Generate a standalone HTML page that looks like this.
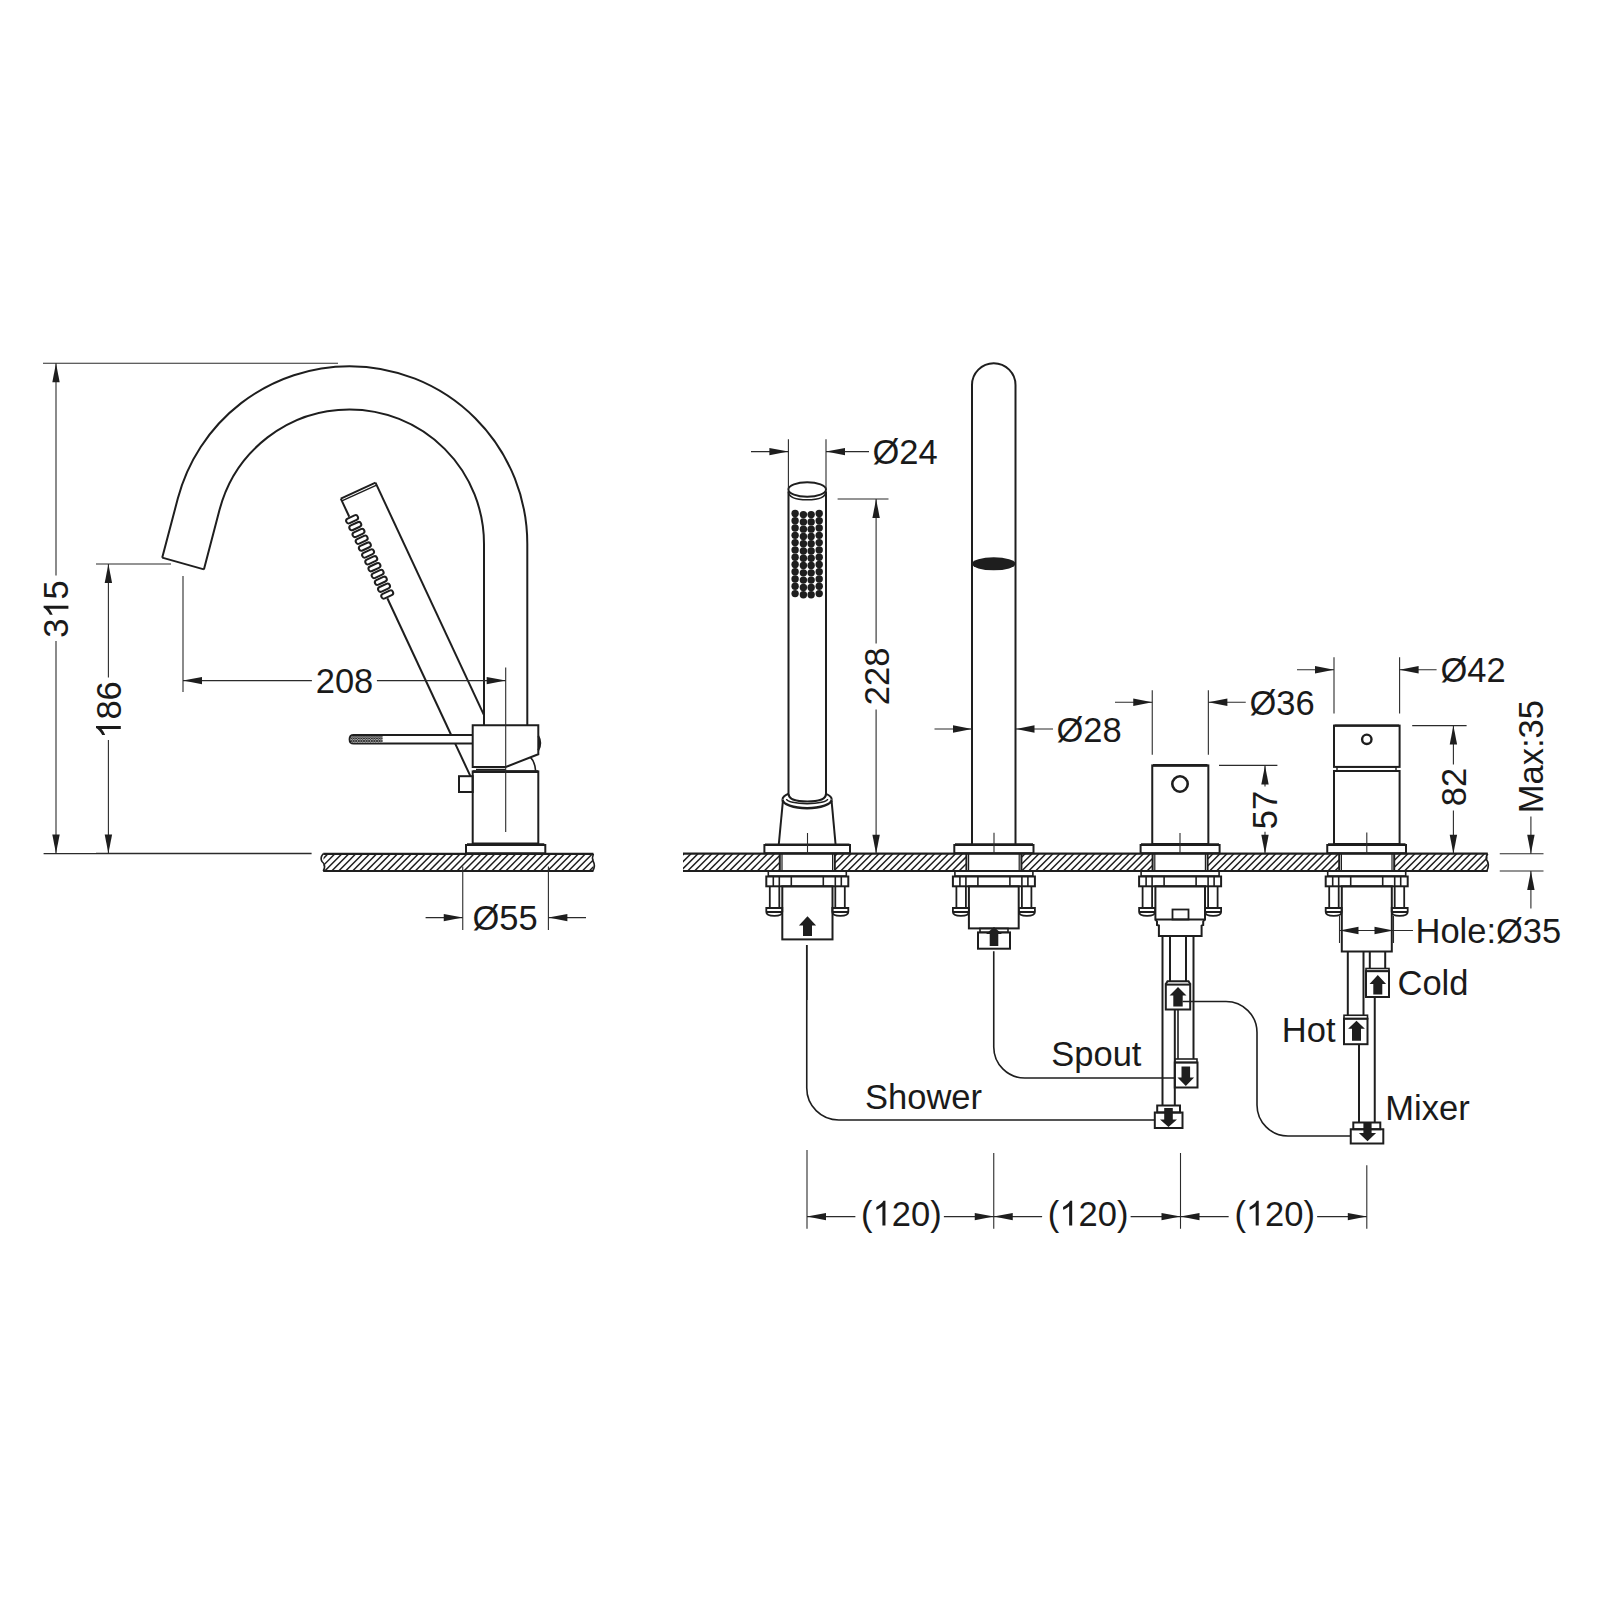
<!DOCTYPE html>
<html><head><meta charset="utf-8"><style>html,body{margin:0;padding:0;background:#fff;}svg{display:block;}</style></head><body>
<svg width="1600" height="1600" viewBox="0 0 1600 1600" style="font-family:&quot;Liberation Sans&quot;, sans-serif" fill="#1a1a1a">
<rect width="1600" height="1600" fill="#fff"/>
<path d="M162.2,557.65 L177.8,498.6 A177.7,177.7 0 0 1 349.6,366.2 A177.7,177.7 0 0 1 527.3,543.9 L527.3,725.3" fill="none" stroke="#1e1e1e" stroke-width="2"/>
<path d="M203.9,569.4 L219.6,509.6 A134.4,134.4 0 0 1 349.6,409.5 A134.4,134.4 0 0 1 484,543.9 L484,725.3" fill="none" stroke="#1e1e1e" stroke-width="2"/>
<line x1="162.2" y1="557.65" x2="203.9" y2="569.4" stroke="#1e1e1e" stroke-width="2"/>
<line x1="340.8" y1="498.6" x2="375.5" y2="482.7" stroke="#1e1e1e" stroke-width="2"/>
<line x1="341.9" y1="500.96" x2="376.6" y2="485.06" stroke="#1e1e1e" stroke-width="1.4"/>
<line x1="340.8" y1="498.6" x2="349.26" y2="516.72" stroke="#1e1e1e" stroke-width="2"/>
<line x1="387.33" y1="598.26" x2="451.17" y2="735" stroke="#1e1e1e" stroke-width="2"/>
<line x1="455.19" y1="743.6" x2="470.41" y2="776.2" stroke="#1e1e1e" stroke-width="2"/>
<line x1="375.5" y1="482.7" x2="484" y2="715.09" stroke="#1e1e1e" stroke-width="2"/>
<rect x="-6.3" y="-2.5" width="12.6" height="5" rx="2.5" fill="none" stroke="#1e1e1e" stroke-width="2" transform="translate(352.1,519.26) rotate(-25.03)"/>
<rect x="-6.3" y="-2.5" width="12.6" height="5" rx="2.5" fill="none" stroke="#1e1e1e" stroke-width="2" transform="translate(355.29,526.1) rotate(-25.03)"/>
<rect x="-6.3" y="-2.5" width="12.6" height="5" rx="2.5" fill="none" stroke="#1e1e1e" stroke-width="2" transform="translate(358.49,532.94) rotate(-25.03)"/>
<rect x="-6.3" y="-2.5" width="12.6" height="5" rx="2.5" fill="none" stroke="#1e1e1e" stroke-width="2" transform="translate(361.68,539.78) rotate(-25.03)"/>
<rect x="-6.3" y="-2.5" width="12.6" height="5" rx="2.5" fill="none" stroke="#1e1e1e" stroke-width="2" transform="translate(364.87,546.62) rotate(-25.03)"/>
<rect x="-6.3" y="-2.5" width="12.6" height="5" rx="2.5" fill="none" stroke="#1e1e1e" stroke-width="2" transform="translate(368.07,553.46) rotate(-25.03)"/>
<rect x="-6.3" y="-2.5" width="12.6" height="5" rx="2.5" fill="none" stroke="#1e1e1e" stroke-width="2" transform="translate(371.26,560.3) rotate(-25.03)"/>
<rect x="-6.3" y="-2.5" width="12.6" height="5" rx="2.5" fill="none" stroke="#1e1e1e" stroke-width="2" transform="translate(374.46,567.14) rotate(-25.03)"/>
<rect x="-6.3" y="-2.5" width="12.6" height="5" rx="2.5" fill="none" stroke="#1e1e1e" stroke-width="2" transform="translate(377.65,573.98) rotate(-25.03)"/>
<rect x="-6.3" y="-2.5" width="12.6" height="5" rx="2.5" fill="none" stroke="#1e1e1e" stroke-width="2" transform="translate(380.84,580.82) rotate(-25.03)"/>
<rect x="-6.3" y="-2.5" width="12.6" height="5" rx="2.5" fill="none" stroke="#1e1e1e" stroke-width="2" transform="translate(384.04,587.66) rotate(-25.03)"/>
<rect x="-6.3" y="-2.5" width="12.6" height="5" rx="2.5" fill="none" stroke="#1e1e1e" stroke-width="2" transform="translate(387.23,594.5) rotate(-25.03)"/>
<pattern id="knurl" width="2.6" height="2.6" patternUnits="userSpaceOnUse"><rect width="2.6" height="2.6" fill="#fff"/><path d="M0,0 L2.6,2.6 M2.6,0 L0,2.6" stroke="#222" stroke-width="0.9"/></pattern>
<path d="M472.7,735 L353.6,735 Q349.6,735 349.6,739.3 Q349.6,743.6 353.6,743.6 L472.7,743.6" fill="none" stroke="#1e1e1e" stroke-width="2"/>
<rect x="351" y="736" width="31.6" height="6.6" fill="url(#knurl)" stroke="none" stroke-width="0"/>
<path d="M472.7,725.3 L538.3,725.3 L538.3,754.2 L505.7,767 L472.7,767 Z" fill="none" stroke="#1e1e1e" stroke-width="2"/>
<path d="M538.3,736 Q542.2,743 538.3,750.3" fill="#1e1e1e" stroke="#1e1e1e" stroke-width="2"/>
<path d="M530.5,757.4 Q535,762 535.6,770.7" fill="none" stroke="#1e1e1e" stroke-width="1.6"/>
<line x1="476" y1="769.4" x2="505.7" y2="769.4" stroke="#1e1e1e" stroke-width="1.2"/>
<rect x="472.7" y="771.4" width="65.6" height="72.1" fill="none" stroke="#1e1e1e" stroke-width="2"/>
<line x1="473" y1="771.6" x2="538" y2="771.6" stroke="#1e1e1e" stroke-width="2.8"/>
<rect x="459" y="776.2" width="13.7" height="15.8" fill="none" stroke="#1e1e1e" stroke-width="2"/>
<rect x="466" y="845" width="79.3" height="8.3" fill="none" stroke="#1e1e1e" stroke-width="2"/>
<line x1="467" y1="844.4" x2="544.3" y2="844.4" stroke="#1e1e1e" stroke-width="2.4"/>
<clipPath id="cl"><rect x="323.5" y="853.8" width="269.9" height="17.2"/></clipPath>
<g clip-path="url(#cl)" stroke="#1e1e1e" stroke-width="1.5">
<line x1="289.94" y1="871" x2="307.14" y2="853.8"/>
<line x1="296.9" y1="871" x2="314.1" y2="853.8"/>
<line x1="303.86" y1="871" x2="321.06" y2="853.8"/>
<line x1="310.82" y1="871" x2="328.02" y2="853.8"/>
<line x1="317.78" y1="871" x2="334.98" y2="853.8"/>
<line x1="324.74" y1="871" x2="341.94" y2="853.8"/>
<line x1="331.7" y1="871" x2="348.9" y2="853.8"/>
<line x1="338.66" y1="871" x2="355.86" y2="853.8"/>
<line x1="345.62" y1="871" x2="362.82" y2="853.8"/>
<line x1="352.58" y1="871" x2="369.78" y2="853.8"/>
<line x1="359.54" y1="871" x2="376.74" y2="853.8"/>
<line x1="366.5" y1="871" x2="383.7" y2="853.8"/>
<line x1="373.46" y1="871" x2="390.66" y2="853.8"/>
<line x1="380.42" y1="871" x2="397.62" y2="853.8"/>
<line x1="387.38" y1="871" x2="404.58" y2="853.8"/>
<line x1="394.34" y1="871" x2="411.54" y2="853.8"/>
<line x1="401.3" y1="871" x2="418.5" y2="853.8"/>
<line x1="408.26" y1="871" x2="425.46" y2="853.8"/>
<line x1="415.22" y1="871" x2="432.42" y2="853.8"/>
<line x1="422.18" y1="871" x2="439.38" y2="853.8"/>
<line x1="429.14" y1="871" x2="446.34" y2="853.8"/>
<line x1="436.1" y1="871" x2="453.3" y2="853.8"/>
<line x1="443.06" y1="871" x2="460.26" y2="853.8"/>
<line x1="450.02" y1="871" x2="467.22" y2="853.8"/>
<line x1="456.98" y1="871" x2="474.18" y2="853.8"/>
<line x1="463.94" y1="871" x2="481.14" y2="853.8"/>
<line x1="470.9" y1="871" x2="488.1" y2="853.8"/>
<line x1="477.86" y1="871" x2="495.06" y2="853.8"/>
<line x1="484.82" y1="871" x2="502.02" y2="853.8"/>
<line x1="491.78" y1="871" x2="508.98" y2="853.8"/>
<line x1="498.74" y1="871" x2="515.94" y2="853.8"/>
<line x1="505.7" y1="871" x2="522.9" y2="853.8"/>
<line x1="512.66" y1="871" x2="529.86" y2="853.8"/>
<line x1="519.62" y1="871" x2="536.82" y2="853.8"/>
<line x1="526.58" y1="871" x2="543.78" y2="853.8"/>
<line x1="533.54" y1="871" x2="550.74" y2="853.8"/>
<line x1="540.5" y1="871" x2="557.7" y2="853.8"/>
<line x1="547.46" y1="871" x2="564.66" y2="853.8"/>
<line x1="554.42" y1="871" x2="571.62" y2="853.8"/>
<line x1="561.38" y1="871" x2="578.58" y2="853.8"/>
<line x1="568.34" y1="871" x2="585.54" y2="853.8"/>
<line x1="575.3" y1="871" x2="592.5" y2="853.8"/>
<line x1="582.26" y1="871" x2="599.46" y2="853.8"/>
<line x1="589.22" y1="871" x2="606.42" y2="853.8"/>
<line x1="596.18" y1="871" x2="613.38" y2="853.8"/>
</g>
<line x1="323.2" y1="853.8" x2="593.4" y2="853.8" stroke="#1e1e1e" stroke-width="2.2"/>
<line x1="323.2" y1="871" x2="593.4" y2="871" stroke="#1e1e1e" stroke-width="2.2"/>
<path d="M323.2,853.8 Q319.8,858 322,861.5 Q326.5,865.5 323.2,871" fill="none" stroke="#1e1e1e" stroke-width="1.6"/>
<path d="M593.4,853.8 Q591.8,858 593,861 Q596,866 592.6,871" fill="none" stroke="#1e1e1e" stroke-width="1.6"/>
<line x1="43.6" y1="853.6" x2="96" y2="853.6" stroke="#2b2b2b" stroke-width="1.1"/>
<line x1="96" y1="853.6" x2="311.6" y2="853.6" stroke="#2b2b2b" stroke-width="1.5"/>
<line x1="505.7" y1="667.5" x2="505.7" y2="832" stroke="#2b2b2b" stroke-width="1.1"/>
<line x1="43" y1="363.3" x2="338" y2="363.3" stroke="#2b2b2b" stroke-width="1.1"/>
<line x1="56" y1="363.3" x2="56" y2="575.5" stroke="#2b2b2b" stroke-width="1.1"/>
<line x1="56" y1="641" x2="56" y2="853.6" stroke="#2b2b2b" stroke-width="1.1"/>
<polygon points="56,363.3 52.3,382.3 59.7,382.3" fill="#1e1e1e"/>
<polygon points="56,853.6 52.3,834.6 59.7,834.6" fill="#1e1e1e"/>
<g transform="translate(56,609) rotate(-90)"><text x="-28.78" y="12.4" font-size="34.5">3&#8199;5</text><path d="M763,0 L583,0 L583,1147 Q518,1085 412,1023 Q306,961 222,930 L222,1104 Q372,1175 484,1276 Q596,1377 643,1472 L763,1472 Z" transform="translate(-9.59,12.4) scale(0.016846,-0.016846)"/></g>
<line x1="96" y1="564" x2="171" y2="564" stroke="#2b2b2b" stroke-width="1.1"/>
<line x1="108.4" y1="564" x2="108.4" y2="677.5" stroke="#2b2b2b" stroke-width="1.1"/>
<line x1="108.4" y1="740" x2="108.4" y2="853.6" stroke="#2b2b2b" stroke-width="1.1"/>
<polygon points="108.4,564 104.7,583 112.1,583" fill="#1e1e1e"/>
<polygon points="108.4,853.6 104.7,834.6 112.1,834.6" fill="#1e1e1e"/>
<g transform="translate(108.4,710) rotate(-90)"><text x="-28.78" y="12.4" font-size="34.5">&#8199;86</text><path d="M763,0 L583,0 L583,1147 Q518,1085 412,1023 Q306,961 222,930 L222,1104 Q372,1175 484,1276 Q596,1377 643,1472 L763,1472 Z" transform="translate(-28.78,12.4) scale(0.016846,-0.016846)"/></g>
<line x1="183" y1="576" x2="183" y2="692" stroke="#2b2b2b" stroke-width="1.1"/>
<line x1="183" y1="680.6" x2="311.9" y2="680.6" stroke="#2b2b2b" stroke-width="1.1"/>
<line x1="376.9" y1="680.6" x2="505.7" y2="680.6" stroke="#2b2b2b" stroke-width="1.1"/>
<polygon points="183,680.6 202,676.9 202,684.3" fill="#1e1e1e"/>
<polygon points="505.7,680.6 486.7,676.9 486.7,684.3" fill="#1e1e1e"/>
<text x="315.72" y="693" font-size="34.5">208</text>
<line x1="462.75" y1="866.6" x2="462.75" y2="930" stroke="#2b2b2b" stroke-width="1.1"/>
<line x1="548.4" y1="866.6" x2="548.4" y2="930" stroke="#2b2b2b" stroke-width="1.1"/>
<line x1="425.6" y1="917.6" x2="462.75" y2="917.6" stroke="#2b2b2b" stroke-width="1.1"/>
<line x1="548.4" y1="917.6" x2="586" y2="917.6" stroke="#2b2b2b" stroke-width="1.1"/>
<polygon points="462.75,917.6 443.75,913.9 443.75,921.3" fill="#1e1e1e"/>
<polygon points="548.4,917.6 567.4,913.9 567.4,921.3" fill="#1e1e1e"/>
<text x="472.4" y="930" font-size="34.5">&#216;55</text>
<clipPath id="cr"><rect x="683" y="853.7" width="96.8" height="17.3"/><rect x="834.8" y="853.7" width="131.6" height="17.3"/><rect x="1021.4" y="853.7" width="131.2" height="17.3"/><rect x="1207.6" y="853.7" width="131.6" height="17.3"/><rect x="1394.2" y="853.7" width="93.3" height="17.3"/></clipPath>
<g clip-path="url(#cr)" stroke="#1e1e1e" stroke-width="1.5">
<line x1="652.8" y1="871" x2="670.1" y2="853.7"/>
<line x1="659.76" y1="871" x2="677.06" y2="853.7"/>
<line x1="666.72" y1="871" x2="684.02" y2="853.7"/>
<line x1="673.68" y1="871" x2="690.98" y2="853.7"/>
<line x1="680.64" y1="871" x2="697.94" y2="853.7"/>
<line x1="687.6" y1="871" x2="704.9" y2="853.7"/>
<line x1="694.56" y1="871" x2="711.86" y2="853.7"/>
<line x1="701.52" y1="871" x2="718.82" y2="853.7"/>
<line x1="708.48" y1="871" x2="725.78" y2="853.7"/>
<line x1="715.44" y1="871" x2="732.74" y2="853.7"/>
<line x1="722.4" y1="871" x2="739.7" y2="853.7"/>
<line x1="729.36" y1="871" x2="746.66" y2="853.7"/>
<line x1="736.32" y1="871" x2="753.62" y2="853.7"/>
<line x1="743.28" y1="871" x2="760.58" y2="853.7"/>
<line x1="750.24" y1="871" x2="767.54" y2="853.7"/>
<line x1="757.2" y1="871" x2="774.5" y2="853.7"/>
<line x1="764.16" y1="871" x2="781.46" y2="853.7"/>
<line x1="771.12" y1="871" x2="788.42" y2="853.7"/>
<line x1="778.08" y1="871" x2="795.38" y2="853.7"/>
<line x1="785.04" y1="871" x2="802.34" y2="853.7"/>
<line x1="792" y1="871" x2="809.3" y2="853.7"/>
<line x1="798.96" y1="871" x2="816.26" y2="853.7"/>
<line x1="805.92" y1="871" x2="823.22" y2="853.7"/>
<line x1="812.88" y1="871" x2="830.18" y2="853.7"/>
<line x1="819.84" y1="871" x2="837.14" y2="853.7"/>
<line x1="826.8" y1="871" x2="844.1" y2="853.7"/>
<line x1="833.76" y1="871" x2="851.06" y2="853.7"/>
<line x1="840.72" y1="871" x2="858.02" y2="853.7"/>
<line x1="847.68" y1="871" x2="864.98" y2="853.7"/>
<line x1="854.64" y1="871" x2="871.94" y2="853.7"/>
<line x1="861.6" y1="871" x2="878.9" y2="853.7"/>
<line x1="868.56" y1="871" x2="885.86" y2="853.7"/>
<line x1="875.52" y1="871" x2="892.82" y2="853.7"/>
<line x1="882.48" y1="871" x2="899.78" y2="853.7"/>
<line x1="889.44" y1="871" x2="906.74" y2="853.7"/>
<line x1="896.4" y1="871" x2="913.7" y2="853.7"/>
<line x1="903.36" y1="871" x2="920.66" y2="853.7"/>
<line x1="910.32" y1="871" x2="927.62" y2="853.7"/>
<line x1="917.28" y1="871" x2="934.58" y2="853.7"/>
<line x1="924.24" y1="871" x2="941.54" y2="853.7"/>
<line x1="931.2" y1="871" x2="948.5" y2="853.7"/>
<line x1="938.16" y1="871" x2="955.46" y2="853.7"/>
<line x1="945.12" y1="871" x2="962.42" y2="853.7"/>
<line x1="952.08" y1="871" x2="969.38" y2="853.7"/>
<line x1="959.04" y1="871" x2="976.34" y2="853.7"/>
<line x1="966" y1="871" x2="983.3" y2="853.7"/>
<line x1="972.96" y1="871" x2="990.26" y2="853.7"/>
<line x1="979.92" y1="871" x2="997.22" y2="853.7"/>
<line x1="986.88" y1="871" x2="1004.18" y2="853.7"/>
<line x1="993.84" y1="871" x2="1011.14" y2="853.7"/>
<line x1="1000.8" y1="871" x2="1018.1" y2="853.7"/>
<line x1="1007.76" y1="871" x2="1025.06" y2="853.7"/>
<line x1="1014.72" y1="871" x2="1032.02" y2="853.7"/>
<line x1="1021.68" y1="871" x2="1038.98" y2="853.7"/>
<line x1="1028.64" y1="871" x2="1045.94" y2="853.7"/>
<line x1="1035.6" y1="871" x2="1052.9" y2="853.7"/>
<line x1="1042.56" y1="871" x2="1059.86" y2="853.7"/>
<line x1="1049.52" y1="871" x2="1066.82" y2="853.7"/>
<line x1="1056.48" y1="871" x2="1073.78" y2="853.7"/>
<line x1="1063.44" y1="871" x2="1080.74" y2="853.7"/>
<line x1="1070.4" y1="871" x2="1087.7" y2="853.7"/>
<line x1="1077.36" y1="871" x2="1094.66" y2="853.7"/>
<line x1="1084.32" y1="871" x2="1101.62" y2="853.7"/>
<line x1="1091.28" y1="871" x2="1108.58" y2="853.7"/>
<line x1="1098.24" y1="871" x2="1115.54" y2="853.7"/>
<line x1="1105.2" y1="871" x2="1122.5" y2="853.7"/>
<line x1="1112.16" y1="871" x2="1129.46" y2="853.7"/>
<line x1="1119.12" y1="871" x2="1136.42" y2="853.7"/>
<line x1="1126.08" y1="871" x2="1143.38" y2="853.7"/>
<line x1="1133.04" y1="871" x2="1150.34" y2="853.7"/>
<line x1="1140" y1="871" x2="1157.3" y2="853.7"/>
<line x1="1146.96" y1="871" x2="1164.26" y2="853.7"/>
<line x1="1153.92" y1="871" x2="1171.22" y2="853.7"/>
<line x1="1160.88" y1="871" x2="1178.18" y2="853.7"/>
<line x1="1167.84" y1="871" x2="1185.14" y2="853.7"/>
<line x1="1174.8" y1="871" x2="1192.1" y2="853.7"/>
<line x1="1181.76" y1="871" x2="1199.06" y2="853.7"/>
<line x1="1188.72" y1="871" x2="1206.02" y2="853.7"/>
<line x1="1195.68" y1="871" x2="1212.98" y2="853.7"/>
<line x1="1202.64" y1="871" x2="1219.94" y2="853.7"/>
<line x1="1209.6" y1="871" x2="1226.9" y2="853.7"/>
<line x1="1216.56" y1="871" x2="1233.86" y2="853.7"/>
<line x1="1223.52" y1="871" x2="1240.82" y2="853.7"/>
<line x1="1230.48" y1="871" x2="1247.78" y2="853.7"/>
<line x1="1237.44" y1="871" x2="1254.74" y2="853.7"/>
<line x1="1244.4" y1="871" x2="1261.7" y2="853.7"/>
<line x1="1251.36" y1="871" x2="1268.66" y2="853.7"/>
<line x1="1258.32" y1="871" x2="1275.62" y2="853.7"/>
<line x1="1265.28" y1="871" x2="1282.58" y2="853.7"/>
<line x1="1272.24" y1="871" x2="1289.54" y2="853.7"/>
<line x1="1279.2" y1="871" x2="1296.5" y2="853.7"/>
<line x1="1286.16" y1="871" x2="1303.46" y2="853.7"/>
<line x1="1293.12" y1="871" x2="1310.42" y2="853.7"/>
<line x1="1300.08" y1="871" x2="1317.38" y2="853.7"/>
<line x1="1307.04" y1="871" x2="1324.34" y2="853.7"/>
<line x1="1314" y1="871" x2="1331.3" y2="853.7"/>
<line x1="1320.96" y1="871" x2="1338.26" y2="853.7"/>
<line x1="1327.92" y1="871" x2="1345.22" y2="853.7"/>
<line x1="1334.88" y1="871" x2="1352.18" y2="853.7"/>
<line x1="1341.84" y1="871" x2="1359.14" y2="853.7"/>
<line x1="1348.8" y1="871" x2="1366.1" y2="853.7"/>
<line x1="1355.76" y1="871" x2="1373.06" y2="853.7"/>
<line x1="1362.72" y1="871" x2="1380.02" y2="853.7"/>
<line x1="1369.68" y1="871" x2="1386.98" y2="853.7"/>
<line x1="1376.64" y1="871" x2="1393.94" y2="853.7"/>
<line x1="1383.6" y1="871" x2="1400.9" y2="853.7"/>
<line x1="1390.56" y1="871" x2="1407.86" y2="853.7"/>
<line x1="1397.52" y1="871" x2="1414.82" y2="853.7"/>
<line x1="1404.48" y1="871" x2="1421.78" y2="853.7"/>
<line x1="1411.44" y1="871" x2="1428.74" y2="853.7"/>
<line x1="1418.4" y1="871" x2="1435.7" y2="853.7"/>
<line x1="1425.36" y1="871" x2="1442.66" y2="853.7"/>
<line x1="1432.32" y1="871" x2="1449.62" y2="853.7"/>
<line x1="1439.28" y1="871" x2="1456.58" y2="853.7"/>
<line x1="1446.24" y1="871" x2="1463.54" y2="853.7"/>
<line x1="1453.2" y1="871" x2="1470.5" y2="853.7"/>
<line x1="1460.16" y1="871" x2="1477.46" y2="853.7"/>
<line x1="1467.12" y1="871" x2="1484.42" y2="853.7"/>
<line x1="1474.08" y1="871" x2="1491.38" y2="853.7"/>
<line x1="1481.04" y1="871" x2="1498.34" y2="853.7"/>
<line x1="1488" y1="871" x2="1505.3" y2="853.7"/>
</g>
<line x1="683" y1="853.7" x2="1487.75" y2="853.7" stroke="#1e1e1e" stroke-width="2.2"/>
<line x1="683" y1="871" x2="1487.75" y2="871" stroke="#1e1e1e" stroke-width="2.2"/>
<path d="M1487.75,853.7 Q1485.5,857 1486.5,859.5 Q1490,864.5 1486.8,871" fill="none" stroke="#1e1e1e" stroke-width="1.6"/>
<line x1="779.8" y1="853.7" x2="779.8" y2="871" stroke="#1e1e1e" stroke-width="2"/>
<line x1="834.8" y1="853.7" x2="834.8" y2="871" stroke="#1e1e1e" stroke-width="2"/>
<line x1="782" y1="853.7" x2="782" y2="871" stroke="#1e1e1e" stroke-width="1.2"/>
<line x1="832.6" y1="853.7" x2="832.6" y2="871" stroke="#1e1e1e" stroke-width="1.2"/>
<path d="M768.3,871 L768.3,876 L846.3,876 L846.3,871" fill="none" stroke="#1e1e1e" stroke-width="1.6"/>
<rect x="766.3" y="876.5" width="82" height="9.8" fill="none" stroke="#1e1e1e" stroke-width="2"/>
<line x1="773.3" y1="876.5" x2="773.3" y2="886.3" stroke="#1e1e1e" stroke-width="1.6"/>
<line x1="779.3" y1="876.5" x2="779.3" y2="886.3" stroke="#1e1e1e" stroke-width="1.6"/>
<line x1="791.3" y1="876.5" x2="791.3" y2="886.3" stroke="#1e1e1e" stroke-width="1.6"/>
<line x1="823.3" y1="876.5" x2="823.3" y2="886.3" stroke="#1e1e1e" stroke-width="1.6"/>
<line x1="835.3" y1="876.5" x2="835.3" y2="886.3" stroke="#1e1e1e" stroke-width="1.6"/>
<line x1="841.3" y1="876.5" x2="841.3" y2="886.3" stroke="#1e1e1e" stroke-width="1.6"/>
<line x1="769.8" y1="886.3" x2="769.8" y2="908" stroke="#1e1e1e" stroke-width="1.8"/>
<line x1="779.3" y1="886.3" x2="779.3" y2="908" stroke="#1e1e1e" stroke-width="1.8"/>
<path d="M766.3,912 L766.3,908 L782.3,908 L782.3,912 Q782.3,915.8 774.3,915.8 Q766.3,915.8 766.3,912 L782.3,912" fill="none" stroke="#1e1e1e" stroke-width="1.8"/>
<line x1="844.8" y1="886.3" x2="844.8" y2="908" stroke="#1e1e1e" stroke-width="1.8"/>
<line x1="835.3" y1="886.3" x2="835.3" y2="908" stroke="#1e1e1e" stroke-width="1.8"/>
<path d="M832.3,912 L832.3,908 L848.3,908 L848.3,912 Q848.3,915.8 840.3,915.8 Q832.3,915.8 832.3,912 L848.3,912" fill="none" stroke="#1e1e1e" stroke-width="1.8"/>
<line x1="966.4" y1="853.7" x2="966.4" y2="871" stroke="#1e1e1e" stroke-width="2"/>
<line x1="1021.4" y1="853.7" x2="1021.4" y2="871" stroke="#1e1e1e" stroke-width="2"/>
<line x1="968.6" y1="853.7" x2="968.6" y2="871" stroke="#1e1e1e" stroke-width="1.2"/>
<line x1="1019.2" y1="853.7" x2="1019.2" y2="871" stroke="#1e1e1e" stroke-width="1.2"/>
<path d="M954.9,871 L954.9,876 L1032.9,876 L1032.9,871" fill="none" stroke="#1e1e1e" stroke-width="1.6"/>
<rect x="952.9" y="876.5" width="82" height="9.8" fill="none" stroke="#1e1e1e" stroke-width="2"/>
<line x1="959.9" y1="876.5" x2="959.9" y2="886.3" stroke="#1e1e1e" stroke-width="1.6"/>
<line x1="965.9" y1="876.5" x2="965.9" y2="886.3" stroke="#1e1e1e" stroke-width="1.6"/>
<line x1="977.9" y1="876.5" x2="977.9" y2="886.3" stroke="#1e1e1e" stroke-width="1.6"/>
<line x1="1009.9" y1="876.5" x2="1009.9" y2="886.3" stroke="#1e1e1e" stroke-width="1.6"/>
<line x1="1021.9" y1="876.5" x2="1021.9" y2="886.3" stroke="#1e1e1e" stroke-width="1.6"/>
<line x1="1027.9" y1="876.5" x2="1027.9" y2="886.3" stroke="#1e1e1e" stroke-width="1.6"/>
<line x1="956.4" y1="886.3" x2="956.4" y2="908" stroke="#1e1e1e" stroke-width="1.8"/>
<line x1="965.9" y1="886.3" x2="965.9" y2="908" stroke="#1e1e1e" stroke-width="1.8"/>
<path d="M952.9,912 L952.9,908 L968.9,908 L968.9,912 Q968.9,915.8 960.9,915.8 Q952.9,915.8 952.9,912 L968.9,912" fill="none" stroke="#1e1e1e" stroke-width="1.8"/>
<line x1="1031.4" y1="886.3" x2="1031.4" y2="908" stroke="#1e1e1e" stroke-width="1.8"/>
<line x1="1021.9" y1="886.3" x2="1021.9" y2="908" stroke="#1e1e1e" stroke-width="1.8"/>
<path d="M1018.9,912 L1018.9,908 L1034.9,908 L1034.9,912 Q1034.9,915.8 1026.9,915.8 Q1018.9,915.8 1018.9,912 L1034.9,912" fill="none" stroke="#1e1e1e" stroke-width="1.8"/>
<line x1="1152.6" y1="853.7" x2="1152.6" y2="871" stroke="#1e1e1e" stroke-width="2"/>
<line x1="1207.6" y1="853.7" x2="1207.6" y2="871" stroke="#1e1e1e" stroke-width="2"/>
<line x1="1154.8" y1="853.7" x2="1154.8" y2="871" stroke="#1e1e1e" stroke-width="1.2"/>
<line x1="1205.4" y1="853.7" x2="1205.4" y2="871" stroke="#1e1e1e" stroke-width="1.2"/>
<path d="M1141.1,871 L1141.1,876 L1219.1,876 L1219.1,871" fill="none" stroke="#1e1e1e" stroke-width="1.6"/>
<rect x="1139.1" y="876.5" width="82" height="9.8" fill="none" stroke="#1e1e1e" stroke-width="2"/>
<line x1="1146.1" y1="876.5" x2="1146.1" y2="886.3" stroke="#1e1e1e" stroke-width="1.6"/>
<line x1="1152.1" y1="876.5" x2="1152.1" y2="886.3" stroke="#1e1e1e" stroke-width="1.6"/>
<line x1="1164.1" y1="876.5" x2="1164.1" y2="886.3" stroke="#1e1e1e" stroke-width="1.6"/>
<line x1="1196.1" y1="876.5" x2="1196.1" y2="886.3" stroke="#1e1e1e" stroke-width="1.6"/>
<line x1="1208.1" y1="876.5" x2="1208.1" y2="886.3" stroke="#1e1e1e" stroke-width="1.6"/>
<line x1="1214.1" y1="876.5" x2="1214.1" y2="886.3" stroke="#1e1e1e" stroke-width="1.6"/>
<line x1="1142.6" y1="886.3" x2="1142.6" y2="908" stroke="#1e1e1e" stroke-width="1.8"/>
<line x1="1152.1" y1="886.3" x2="1152.1" y2="908" stroke="#1e1e1e" stroke-width="1.8"/>
<path d="M1139.1,912 L1139.1,908 L1155.1,908 L1155.1,912 Q1155.1,915.8 1147.1,915.8 Q1139.1,915.8 1139.1,912 L1155.1,912" fill="none" stroke="#1e1e1e" stroke-width="1.8"/>
<line x1="1217.6" y1="886.3" x2="1217.6" y2="908" stroke="#1e1e1e" stroke-width="1.8"/>
<line x1="1208.1" y1="886.3" x2="1208.1" y2="908" stroke="#1e1e1e" stroke-width="1.8"/>
<path d="M1205.1,912 L1205.1,908 L1221.1,908 L1221.1,912 Q1221.1,915.8 1213.1,915.8 Q1205.1,915.8 1205.1,912 L1221.1,912" fill="none" stroke="#1e1e1e" stroke-width="1.8"/>
<line x1="1339.2" y1="853.7" x2="1339.2" y2="871" stroke="#1e1e1e" stroke-width="2"/>
<line x1="1394.2" y1="853.7" x2="1394.2" y2="871" stroke="#1e1e1e" stroke-width="2"/>
<line x1="1341.4" y1="853.7" x2="1341.4" y2="871" stroke="#1e1e1e" stroke-width="1.2"/>
<line x1="1392" y1="853.7" x2="1392" y2="871" stroke="#1e1e1e" stroke-width="1.2"/>
<path d="M1327.7,871 L1327.7,876 L1405.7,876 L1405.7,871" fill="none" stroke="#1e1e1e" stroke-width="1.6"/>
<rect x="1325.7" y="876.5" width="82" height="9.8" fill="none" stroke="#1e1e1e" stroke-width="2"/>
<line x1="1332.7" y1="876.5" x2="1332.7" y2="886.3" stroke="#1e1e1e" stroke-width="1.6"/>
<line x1="1338.7" y1="876.5" x2="1338.7" y2="886.3" stroke="#1e1e1e" stroke-width="1.6"/>
<line x1="1350.7" y1="876.5" x2="1350.7" y2="886.3" stroke="#1e1e1e" stroke-width="1.6"/>
<line x1="1382.7" y1="876.5" x2="1382.7" y2="886.3" stroke="#1e1e1e" stroke-width="1.6"/>
<line x1="1394.7" y1="876.5" x2="1394.7" y2="886.3" stroke="#1e1e1e" stroke-width="1.6"/>
<line x1="1400.7" y1="876.5" x2="1400.7" y2="886.3" stroke="#1e1e1e" stroke-width="1.6"/>
<line x1="1329.2" y1="886.3" x2="1329.2" y2="908" stroke="#1e1e1e" stroke-width="1.8"/>
<line x1="1338.7" y1="886.3" x2="1338.7" y2="908" stroke="#1e1e1e" stroke-width="1.8"/>
<path d="M1325.7,912 L1325.7,908 L1341.7,908 L1341.7,912 Q1341.7,915.8 1333.7,915.8 Q1325.7,915.8 1325.7,912 L1341.7,912" fill="none" stroke="#1e1e1e" stroke-width="1.8"/>
<line x1="1404.2" y1="886.3" x2="1404.2" y2="908" stroke="#1e1e1e" stroke-width="1.8"/>
<line x1="1394.7" y1="886.3" x2="1394.7" y2="908" stroke="#1e1e1e" stroke-width="1.8"/>
<path d="M1391.7,912 L1391.7,908 L1407.7,908 L1407.7,912 Q1407.7,915.8 1399.7,915.8 Q1391.7,915.8 1391.7,912 L1407.7,912" fill="none" stroke="#1e1e1e" stroke-width="1.8"/>
<line x1="788.5" y1="491.5" x2="788.5" y2="794" stroke="#1e1e1e" stroke-width="2"/>
<line x1="826" y1="491.5" x2="826" y2="794" stroke="#1e1e1e" stroke-width="2"/>
<ellipse cx="807.2" cy="489.5" rx="18.8" ry="7.3" fill="none" stroke="#1e1e1e" stroke-width="2"/>
<path d="M788.4,491.5 Q788.6,499.8 807.2,499.8 Q825.8,499.8 826,491.5" fill="none" stroke="#1e1e1e" stroke-width="1.6"/>
<circle cx="795.1" cy="513.5" r="3.7" fill="#1e1e1e"/>
<circle cx="795.1" cy="520.78" r="3.7" fill="#1e1e1e"/>
<circle cx="795.1" cy="528.06" r="3.7" fill="#1e1e1e"/>
<circle cx="795.1" cy="535.34" r="3.7" fill="#1e1e1e"/>
<circle cx="795.1" cy="542.62" r="3.7" fill="#1e1e1e"/>
<circle cx="795.1" cy="549.9" r="3.7" fill="#1e1e1e"/>
<circle cx="795.1" cy="557.18" r="3.7" fill="#1e1e1e"/>
<circle cx="795.1" cy="564.46" r="3.7" fill="#1e1e1e"/>
<circle cx="795.1" cy="571.74" r="3.7" fill="#1e1e1e"/>
<circle cx="795.1" cy="579.02" r="3.7" fill="#1e1e1e"/>
<circle cx="795.1" cy="586.3" r="3.7" fill="#1e1e1e"/>
<circle cx="795.1" cy="593.58" r="3.7" fill="#1e1e1e"/>
<circle cx="803.4" cy="514.6" r="3.7" fill="#1e1e1e"/>
<circle cx="803.4" cy="521.88" r="3.7" fill="#1e1e1e"/>
<circle cx="803.4" cy="529.16" r="3.7" fill="#1e1e1e"/>
<circle cx="803.4" cy="536.44" r="3.7" fill="#1e1e1e"/>
<circle cx="803.4" cy="543.72" r="3.7" fill="#1e1e1e"/>
<circle cx="803.4" cy="551" r="3.7" fill="#1e1e1e"/>
<circle cx="803.4" cy="558.28" r="3.7" fill="#1e1e1e"/>
<circle cx="803.4" cy="565.56" r="3.7" fill="#1e1e1e"/>
<circle cx="803.4" cy="572.84" r="3.7" fill="#1e1e1e"/>
<circle cx="803.4" cy="580.12" r="3.7" fill="#1e1e1e"/>
<circle cx="803.4" cy="587.4" r="3.7" fill="#1e1e1e"/>
<circle cx="803.4" cy="594.68" r="3.7" fill="#1e1e1e"/>
<circle cx="811.15" cy="514.6" r="3.7" fill="#1e1e1e"/>
<circle cx="811.15" cy="521.88" r="3.7" fill="#1e1e1e"/>
<circle cx="811.15" cy="529.16" r="3.7" fill="#1e1e1e"/>
<circle cx="811.15" cy="536.44" r="3.7" fill="#1e1e1e"/>
<circle cx="811.15" cy="543.72" r="3.7" fill="#1e1e1e"/>
<circle cx="811.15" cy="551" r="3.7" fill="#1e1e1e"/>
<circle cx="811.15" cy="558.28" r="3.7" fill="#1e1e1e"/>
<circle cx="811.15" cy="565.56" r="3.7" fill="#1e1e1e"/>
<circle cx="811.15" cy="572.84" r="3.7" fill="#1e1e1e"/>
<circle cx="811.15" cy="580.12" r="3.7" fill="#1e1e1e"/>
<circle cx="811.15" cy="587.4" r="3.7" fill="#1e1e1e"/>
<circle cx="811.15" cy="594.68" r="3.7" fill="#1e1e1e"/>
<circle cx="819.2" cy="513.5" r="3.7" fill="#1e1e1e"/>
<circle cx="819.2" cy="520.78" r="3.7" fill="#1e1e1e"/>
<circle cx="819.2" cy="528.06" r="3.7" fill="#1e1e1e"/>
<circle cx="819.2" cy="535.34" r="3.7" fill="#1e1e1e"/>
<circle cx="819.2" cy="542.62" r="3.7" fill="#1e1e1e"/>
<circle cx="819.2" cy="549.9" r="3.7" fill="#1e1e1e"/>
<circle cx="819.2" cy="557.18" r="3.7" fill="#1e1e1e"/>
<circle cx="819.2" cy="564.46" r="3.7" fill="#1e1e1e"/>
<circle cx="819.2" cy="571.74" r="3.7" fill="#1e1e1e"/>
<circle cx="819.2" cy="579.02" r="3.7" fill="#1e1e1e"/>
<circle cx="819.2" cy="586.3" r="3.7" fill="#1e1e1e"/>
<circle cx="819.2" cy="593.58" r="3.7" fill="#1e1e1e"/>
<path d="M782.5,799.5 A24.6,8.7 0 0 0 831.7,799.5" fill="none" stroke="#1e1e1e" stroke-width="2.4"/>
<path d="M782.5,799.5 A24.6,8.7 0 0 1 788.6,793.8" fill="none" stroke="#1e1e1e" stroke-width="2"/>
<path d="M826,793.8 A24.6,8.7 0 0 1 831.7,799.5" fill="none" stroke="#1e1e1e" stroke-width="2"/>
<path d="M786.6,799 A20.5,4.7 0 0 0 827.6,799" fill="none" stroke="#1e1e1e" stroke-width="1.5"/>
<path d="M788.6,794 Q788.8,801.5 807.3,801.5 Q825.8,801.5 826,794" fill="none" stroke="#1e1e1e" stroke-width="2.2"/>
<line x1="782.9" y1="801" x2="778.75" y2="844.75" stroke="#1e1e1e" stroke-width="2"/>
<line x1="831.6" y1="801" x2="835.6" y2="844.75" stroke="#1e1e1e" stroke-width="2"/>
<rect x="764.4" y="845" width="85.6" height="8.2" fill="none" stroke="#1e1e1e" stroke-width="2"/>
<line x1="765" y1="844.5" x2="849.5" y2="844.5" stroke="#1e1e1e" stroke-width="2.2"/>
<line x1="807.5" y1="833" x2="807.5" y2="853.7" stroke="#2b2b2b" stroke-width="1.1"/>
<rect x="782.3" y="886.3" width="50.2" height="53.1" fill="none" stroke="#1e1e1e" stroke-width="2"/>
<polygon points="807.5,916.3 816.1,925.6 812,925.6 812,936 803,936 803,925.6 798.9,925.6" fill="#1e1e1e"/>
<line x1="806.75" y1="945" x2="806.75" y2="1000" stroke="#1e1e1e" stroke-width="1.5"/>
<line x1="788.4" y1="439.25" x2="788.4" y2="489" stroke="#2b2b2b" stroke-width="1.1"/>
<line x1="826" y1="439.25" x2="826" y2="489" stroke="#2b2b2b" stroke-width="1.1"/>
<line x1="751" y1="451.6" x2="788.4" y2="451.6" stroke="#2b2b2b" stroke-width="1.1"/>
<line x1="826" y1="451.6" x2="869" y2="451.6" stroke="#2b2b2b" stroke-width="1.1"/>
<polygon points="788.4,451.6 769.4,447.9 769.4,455.3" fill="#1e1e1e"/>
<polygon points="826,451.6 845,447.9 845,455.3" fill="#1e1e1e"/>
<text x="872.4" y="464" font-size="34.5">&#216;24</text>
<line x1="837.6" y1="499" x2="888.5" y2="499" stroke="#2b2b2b" stroke-width="1.1"/>
<line x1="876.1" y1="499" x2="876.1" y2="643.4" stroke="#2b2b2b" stroke-width="1.1"/>
<line x1="876.1" y1="709.4" x2="876.1" y2="853.7" stroke="#2b2b2b" stroke-width="1.1"/>
<polygon points="876.1,499 872.4,518 879.8,518" fill="#1e1e1e"/>
<polygon points="876.1,853.7 872.4,834.7 879.8,834.7" fill="#1e1e1e"/>
<g transform="translate(876.1,676.4) rotate(-90)"><text x="-28.78" y="12.4" font-size="34.5">228</text></g>
<path d="M972,844 L972,385 A21.75,21.75 0 0 1 1015.5,385 L1015.5,844" fill="none" stroke="#1e1e1e" stroke-width="2"/>
<ellipse cx="993.75" cy="563.8" rx="21.75" ry="6.5" fill="#1e1e1e"/>
<rect x="954.3" y="845" width="79.2" height="8.2" fill="none" stroke="#1e1e1e" stroke-width="2"/>
<line x1="955" y1="844.5" x2="1033" y2="844.5" stroke="#1e1e1e" stroke-width="2.4"/>
<line x1="994" y1="832.75" x2="994" y2="853.7" stroke="#2b2b2b" stroke-width="1.1"/>
<rect x="968.9" y="886.3" width="49.8" height="42.1" fill="none" stroke="#1e1e1e" stroke-width="2"/>
<rect x="980" y="928.4" width="28" height="4" fill="none" stroke="#1e1e1e" stroke-width="1.6"/>
<rect x="978" y="932.4" width="32" height="16.3" fill="none" stroke="#1e1e1e" stroke-width="2"/>
<polygon points="994,927 1002,934 998.3,934 998.3,946 989.7,946 989.7,934 986,934" fill="#1e1e1e"/>
<line x1="934.5" y1="729" x2="972" y2="729" stroke="#2b2b2b" stroke-width="1.1"/>
<line x1="1015.5" y1="729" x2="1053" y2="729" stroke="#2b2b2b" stroke-width="1.1"/>
<polygon points="972,729 953,725.3 953,732.7" fill="#1e1e1e"/>
<polygon points="1015.5,729 1034.5,725.3 1034.5,732.7" fill="#1e1e1e"/>
<text x="1056.4" y="741.5" font-size="34.5">&#216;28</text>
<rect x="1152.25" y="765.4" width="56.1" height="78.6" fill="none" stroke="#1e1e1e" stroke-width="2"/>
<line x1="1153" y1="765.4" x2="1207.5" y2="765.4" stroke="#1e1e1e" stroke-width="2.6"/>
<circle cx="1180" cy="784" r="7.7" fill="none" stroke="#1e1e1e" stroke-width="2.6"/>
<rect x="1140.6" y="845" width="79" height="8.2" fill="none" stroke="#1e1e1e" stroke-width="2"/>
<line x1="1141" y1="844.5" x2="1219" y2="844.5" stroke="#1e1e1e" stroke-width="2.4"/>
<line x1="1180" y1="833" x2="1180" y2="853.7" stroke="#2b2b2b" stroke-width="1.1"/>
<rect x="1155.4" y="886.3" width="49.6" height="33.2" fill="none" stroke="#1e1e1e" stroke-width="2"/>
<rect x="1172.5" y="909.5" width="16" height="10" fill="none" stroke="#1e1e1e" stroke-width="1.8"/>
<path d="M1155.6,919.5 L1157,921.5 L1157,925 L1158.9,925.6 L1158.9,936.1 L1201.6,936.1 L1201.6,925.6 L1203.2,925 L1203.2,921.5 L1204.6,919.5" fill="none" stroke="#1e1e1e" stroke-width="2"/>
<line x1="1152.25" y1="690.2" x2="1152.25" y2="754.8" stroke="#2b2b2b" stroke-width="1.1"/>
<line x1="1208.35" y1="690.2" x2="1208.35" y2="754.8" stroke="#2b2b2b" stroke-width="1.1"/>
<line x1="1115" y1="702.3" x2="1152.25" y2="702.3" stroke="#2b2b2b" stroke-width="1.1"/>
<line x1="1208.35" y1="702.3" x2="1245.75" y2="702.3" stroke="#2b2b2b" stroke-width="1.1"/>
<polygon points="1152.25,702.3 1133.25,698.6 1133.25,706" fill="#1e1e1e"/>
<polygon points="1208.35,702.3 1227.35,698.6 1227.35,706" fill="#1e1e1e"/>
<text x="1249.4" y="714.8" font-size="34.5">&#216;36</text>
<line x1="1219" y1="765.4" x2="1277.4" y2="765.4" stroke="#2b2b2b" stroke-width="1.1"/>
<line x1="1265" y1="765.4" x2="1265" y2="786.5" stroke="#2b2b2b" stroke-width="1.1"/>
<line x1="1265" y1="831.8" x2="1265" y2="853.7" stroke="#2b2b2b" stroke-width="1.1"/>
<polygon points="1265,765.4 1261.3,784.4 1268.7,784.4" fill="#1e1e1e"/>
<polygon points="1265,853.7 1261.3,834.7 1268.7,834.7" fill="#1e1e1e"/>
<g transform="translate(1265,810) rotate(-90)"><text x="-19.19" y="12.4" font-size="34.5">57</text></g>
<rect x="1334" y="725.6" width="65.6" height="41.3" fill="none" stroke="#1e1e1e" stroke-width="2"/>
<line x1="1334.5" y1="725.6" x2="1399" y2="725.6" stroke="#1e1e1e" stroke-width="2.4"/>
<circle cx="1366.8" cy="739.3" r="4.7" fill="none" stroke="#1e1e1e" stroke-width="2.4"/>
<rect x="1337" y="766.9" width="59" height="4.1" fill="none" stroke="#1e1e1e" stroke-width="1.4"/>
<rect x="1334" y="771" width="65.6" height="73" fill="none" stroke="#1e1e1e" stroke-width="2"/>
<rect x="1327.25" y="845" width="78.75" height="8.2" fill="none" stroke="#1e1e1e" stroke-width="2"/>
<line x1="1328" y1="844.5" x2="1405.5" y2="844.5" stroke="#1e1e1e" stroke-width="2.4"/>
<line x1="1366.8" y1="832.5" x2="1366.8" y2="853.7" stroke="#2b2b2b" stroke-width="1.1"/>
<rect x="1341.8" y="886.3" width="50" height="65.2" fill="none" stroke="#1e1e1e" stroke-width="2"/>
<line x1="1334" y1="657.2" x2="1334" y2="713.4" stroke="#2b2b2b" stroke-width="1.1"/>
<line x1="1399.6" y1="657.2" x2="1399.6" y2="713.4" stroke="#2b2b2b" stroke-width="1.1"/>
<line x1="1297" y1="669.75" x2="1334" y2="669.75" stroke="#2b2b2b" stroke-width="1.1"/>
<line x1="1399.6" y1="669.75" x2="1436.6" y2="669.75" stroke="#2b2b2b" stroke-width="1.1"/>
<polygon points="1334,669.75 1315,666.05 1315,673.45" fill="#1e1e1e"/>
<polygon points="1399.6,669.75 1418.6,666.05 1418.6,673.45" fill="#1e1e1e"/>
<text x="1440.4" y="682.2" font-size="34.5">&#216;42</text>
<line x1="1412.2" y1="725.6" x2="1466.6" y2="725.6" stroke="#2b2b2b" stroke-width="1.1"/>
<line x1="1453.4" y1="725.6" x2="1453.4" y2="764.6" stroke="#2b2b2b" stroke-width="1.1"/>
<line x1="1453.4" y1="810.4" x2="1453.4" y2="853.7" stroke="#2b2b2b" stroke-width="1.1"/>
<polygon points="1453.4,725.6 1449.7,744.6 1457.1,744.6" fill="#1e1e1e"/>
<polygon points="1453.4,853.7 1449.7,834.7 1457.1,834.7" fill="#1e1e1e"/>
<g transform="translate(1454,787) rotate(-90)"><text x="-19.19" y="12.4" font-size="34.5">82</text></g>
<line x1="1499.75" y1="853.7" x2="1543.5" y2="853.7" stroke="#2b2b2b" stroke-width="1.1"/>
<line x1="1499.75" y1="871" x2="1543.5" y2="871" stroke="#2b2b2b" stroke-width="1.1"/>
<line x1="1530.9" y1="816.6" x2="1530.9" y2="853.7" stroke="#2b2b2b" stroke-width="1.1"/>
<line x1="1530.9" y1="871" x2="1530.9" y2="908.5" stroke="#2b2b2b" stroke-width="1.1"/>
<polygon points="1530.9,853.7 1527.2,834.7 1534.6,834.7" fill="#1e1e1e"/>
<polygon points="1530.9,871 1527.2,890 1534.6,890" fill="#1e1e1e"/>
<g transform="translate(1531,756.6) rotate(-90)"><text x="-56.57" y="12.4" font-size="34.5">Max:35</text></g>
<line x1="1339.5" y1="916" x2="1339.5" y2="943" stroke="#2b2b2b" stroke-width="1.1"/>
<line x1="1393.5" y1="916" x2="1393.5" y2="943" stroke="#2b2b2b" stroke-width="1.1"/>
<line x1="1339.5" y1="930.5" x2="1413" y2="930.5" stroke="#2b2b2b" stroke-width="1.1"/>
<polygon points="1339.5,930.5 1358.5,926.8 1358.5,934.2" fill="#1e1e1e"/>
<polygon points="1393.5,930.5 1374.5,926.8 1374.5,934.2" fill="#1e1e1e"/>
<text x="1415.5" y="942.5" font-size="34.5">Hole:&#216;35</text>
<line x1="1162.5" y1="936.5" x2="1162.5" y2="1105.5" stroke="#1e1e1e" stroke-width="2"/>
<line x1="1193.5" y1="936.5" x2="1193.5" y2="1059" stroke="#1e1e1e" stroke-width="2"/>
<line x1="1170" y1="936.5" x2="1170" y2="981.5" stroke="#1e1e1e" stroke-width="2"/>
<line x1="1186" y1="936.5" x2="1186" y2="981.5" stroke="#1e1e1e" stroke-width="2"/>
<path d="M1165.6,984.6 L1167.5,981.3 L1188.5,981.3 L1190.5,984.6" fill="none" stroke="#1e1e1e" stroke-width="2"/>
<rect x="1165.8" y="984.6" width="24.4" height="24.9" fill="none" stroke="#1e1e1e" stroke-width="2"/>
<polygon points="1178,987 1186.5,995.5 1182.7,995.5 1182.7,1006.5 1173.3,1006.5 1173.3,995.5 1169.5,995.5" fill="#1e1e1e"/>
<line x1="1174.8" y1="1009.5" x2="1174.8" y2="1105.5" stroke="#1e1e1e" stroke-width="2"/>
<line x1="1178" y1="1009.5" x2="1178" y2="1059" stroke="#1e1e1e" stroke-width="1.6"/>
<rect x="1174.8" y="1059" width="22.2" height="3.5" fill="none" stroke="#1e1e1e" stroke-width="1.6"/>
<rect x="1174.8" y="1062.5" width="22.7" height="25" fill="none" stroke="#1e1e1e" stroke-width="2"/>
<polygon points="1185.8,1086 1194.1,1077.5 1190.1,1077.5 1190.1,1066.5 1181.5,1066.5 1181.5,1077.5 1177.5,1077.5" fill="#1e1e1e"/>
<rect x="1157.2" y="1105.5" width="22.8" height="7" fill="none" stroke="#1e1e1e" stroke-width="2"/>
<rect x="1154.8" y="1112.5" width="27.7" height="15.5" fill="none" stroke="#1e1e1e" stroke-width="2"/>
<polygon points="1168.5,1127 1177,1119.5 1172.8,1119.5 1172.8,1108 1164.2,1108 1164.2,1119.5 1160,1119.5" fill="#1e1e1e"/>
<line x1="1347.8" y1="951.5" x2="1347.8" y2="1015.25" stroke="#1e1e1e" stroke-width="2"/>
<line x1="1363.5" y1="951.5" x2="1363.5" y2="1015.25" stroke="#1e1e1e" stroke-width="2"/>
<line x1="1369.8" y1="951.5" x2="1369.8" y2="968.5" stroke="#1e1e1e" stroke-width="2"/>
<line x1="1385.2" y1="951.5" x2="1385.2" y2="968.5" stroke="#1e1e1e" stroke-width="2"/>
<rect x="1366" y="968.5" width="23" height="2.7" fill="none" stroke="#1e1e1e" stroke-width="1.6"/>
<rect x="1366" y="971.2" width="23" height="25.8" fill="none" stroke="#1e1e1e" stroke-width="2"/>
<polygon points="1377.8,975 1386.1,984 1382.3,984 1382.3,994.5 1373.3,994.5 1373.3,984 1369.5,984" fill="#1e1e1e"/>
<line x1="1374.75" y1="997" x2="1374.75" y2="1122.5" stroke="#1e1e1e" stroke-width="2"/>
<rect x="1344" y="1015.25" width="23.5" height="3.45" fill="none" stroke="#1e1e1e" stroke-width="1.6"/>
<rect x="1344" y="1018.7" width="23.5" height="25.5" fill="none" stroke="#1e1e1e" stroke-width="2"/>
<polygon points="1356.5,1020.8 1364.9,1028.75 1361,1028.75 1361,1040.75 1352,1040.75 1352,1028.75 1348.1,1028.75" fill="#1e1e1e"/>
<line x1="1359" y1="1044.2" x2="1359" y2="1122.5" stroke="#1e1e1e" stroke-width="2"/>
<rect x="1353.3" y="1122.5" width="27" height="6.75" fill="none" stroke="#1e1e1e" stroke-width="2"/>
<rect x="1350.75" y="1129.25" width="32.55" height="14.25" fill="none" stroke="#1e1e1e" stroke-width="2"/>
<polygon points="1367.5,1141.25 1376.1,1133 1371.6,1133 1371.6,1122.5 1363.4,1122.5 1363.4,1133 1358.9,1133" fill="#1e1e1e"/>
<path d="M806.75,945 L806.75,1088 A32,32 0 0 0 838.75,1120 L1154.8,1120" fill="none" stroke="#1e1e1e" stroke-width="1.6"/>
<path d="M993.75,951.25 L993.75,1047 A31,31 0 0 0 1024.75,1078 L1174.8,1078" fill="none" stroke="#1e1e1e" stroke-width="1.6"/>
<path d="M1182.5,1001.5 L1226,1001.5 A31,31 0 0 1 1257,1032.5 L1257,1105 A31,31 0 0 0 1288,1136 L1350.75,1136" fill="none" stroke="#1e1e1e" stroke-width="1.6"/>
<text x="1397.5" y="994.5" font-size="34.5">Cold</text>
<text x="1281.8" y="1041.8" font-size="34.5">Hot</text>
<text x="1385.3" y="1119.5" font-size="34.5">Mixer</text>
<text x="1051.25" y="1066.25" font-size="34.5">Spout</text>
<text x="865" y="1108.75" font-size="34.5">Shower</text>
<line x1="807" y1="1150" x2="807" y2="1228.75" stroke="#2b2b2b" stroke-width="1.1"/>
<line x1="993.75" y1="1153" x2="993.75" y2="1228.75" stroke="#2b2b2b" stroke-width="1.1"/>
<line x1="1180.5" y1="1153" x2="1180.5" y2="1228.75" stroke="#2b2b2b" stroke-width="1.1"/>
<line x1="1366.8" y1="1165.25" x2="1366.8" y2="1228.75" stroke="#2b2b2b" stroke-width="1.1"/>
<line x1="807" y1="1216.6" x2="855.38" y2="1216.6" stroke="#2b2b2b" stroke-width="1.1"/>
<line x1="943.88" y1="1216.6" x2="993.75" y2="1216.6" stroke="#2b2b2b" stroke-width="1.1"/>
<polygon points="807,1216.6 826,1212.9 826,1220.3" fill="#1e1e1e"/>
<polygon points="993.75,1216.6 974.75,1212.9 974.75,1220.3" fill="#1e1e1e"/>
<text x="861.11" y="1225.5" font-size="34.5">(&#8199;20)</text><path d="M763,0 L583,0 L583,1147 Q518,1085 412,1023 Q306,961 222,930 L222,1104 Q372,1175 484,1276 Q596,1377 643,1472 L763,1472 Z" transform="translate(872.59,1225.5) scale(0.016846,-0.016846)"/>
<line x1="993.75" y1="1216.6" x2="1042.12" y2="1216.6" stroke="#2b2b2b" stroke-width="1.1"/>
<line x1="1130.62" y1="1216.6" x2="1180.5" y2="1216.6" stroke="#2b2b2b" stroke-width="1.1"/>
<polygon points="993.75,1216.6 1012.75,1212.9 1012.75,1220.3" fill="#1e1e1e"/>
<polygon points="1180.5,1216.6 1161.5,1212.9 1161.5,1220.3" fill="#1e1e1e"/>
<text x="1047.86" y="1225.5" font-size="34.5">(&#8199;20)</text><path d="M763,0 L583,0 L583,1147 Q518,1085 412,1023 Q306,961 222,930 L222,1104 Q372,1175 484,1276 Q596,1377 643,1472 L763,1472 Z" transform="translate(1059.34,1225.5) scale(0.016846,-0.016846)"/>
<line x1="1180.5" y1="1216.6" x2="1228.65" y2="1216.6" stroke="#2b2b2b" stroke-width="1.1"/>
<line x1="1317.15" y1="1216.6" x2="1366.8" y2="1216.6" stroke="#2b2b2b" stroke-width="1.1"/>
<polygon points="1180.5,1216.6 1199.5,1212.9 1199.5,1220.3" fill="#1e1e1e"/>
<polygon points="1366.8,1216.6 1347.8,1212.9 1347.8,1220.3" fill="#1e1e1e"/>
<text x="1234.38" y="1225.5" font-size="34.5">(&#8199;20)</text><path d="M763,0 L583,0 L583,1147 Q518,1085 412,1023 Q306,961 222,930 L222,1104 Q372,1175 484,1276 Q596,1377 643,1472 L763,1472 Z" transform="translate(1245.87,1225.5) scale(0.016846,-0.016846)"/>
</svg>
</body></html>
